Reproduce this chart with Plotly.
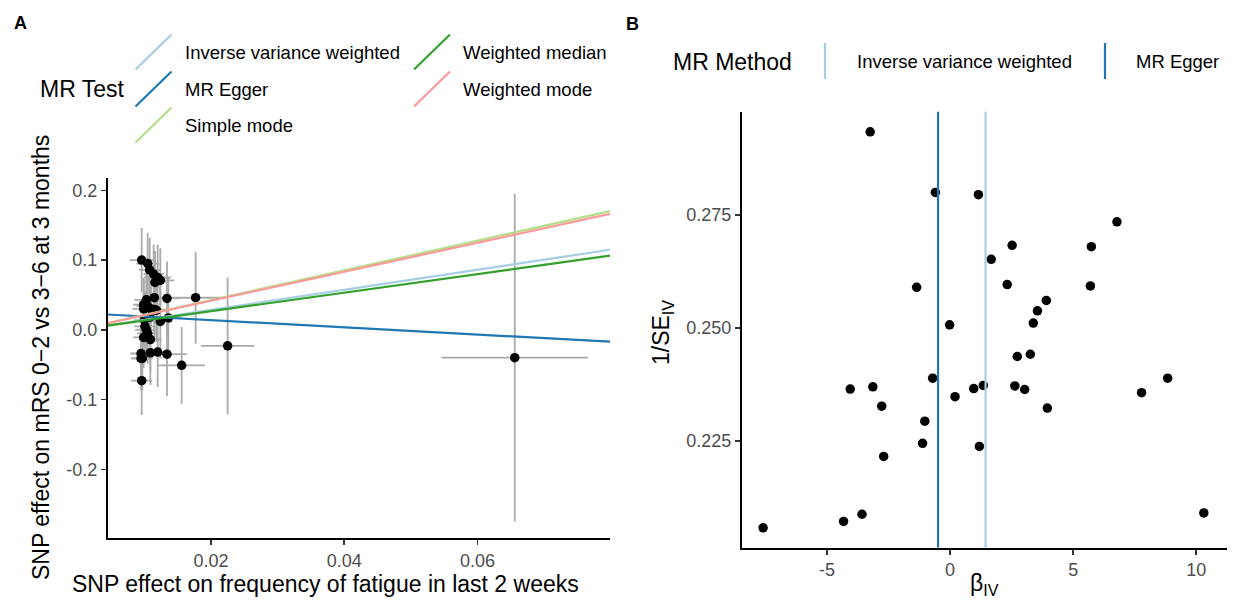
import plotly.graph_objects as go

W, H = 1235, 604
FONT = "Liberation Sans, Arial, Helvetica, sans-serif"

# ---------------- Panel A data (MR scatter) ----------------
snp_exp = [0.0096, 0.0105, 0.0108, 0.0114, 0.0120, 0.0124, 0.0116, 0.0103, 0.0115, 0.0134,
           0.0177, 0.0099, 0.0105, 0.0099, 0.0110, 0.0118, 0.0115, 0.0124, 0.0136, 0.0108,
           0.0100, 0.0101, 0.0103, 0.0105, 0.0109, 0.0099, 0.0095, 0.0109, 0.0120, 0.0134,
           0.0097, 0.0156, 0.0225, 0.0096, 0.0656, 0.0095]
snp_out = [0.100, 0.095, 0.086, 0.080, 0.075, 0.071, 0.068, 0.043, 0.046, 0.045,
           0.046, 0.036, 0.034, 0.030, 0.030, 0.028, 0.029, 0.012, 0.017, 0.018,
           0.014, 0.005, 0.000, -0.005, -0.014, -0.011, -0.034, -0.033, -0.032, -0.035,
           -0.041, -0.051, -0.023, -0.073, -0.040, -0.041]
se_exp = [0.0018, 0.0017, 0.0016, 0.0015, 0.0020, 0.0021, 0.0016, 0.0018, 0.0016, 0.0020,
          0.0040, 0.0016, 0.0017, 0.0017, 0.0016, 0.0018, 0.0020, 0.0018, 0.0020, 0.0016,
          0.0015, 0.0016, 0.0017, 0.0016, 0.0017, 0.0016, 0.0016, 0.0019, 0.0018, 0.0030,
          0.0016, 0.0035, 0.0040, 0.0016, 0.0110, 0.0015]
se_out = [0.046, 0.044, 0.046, 0.042, 0.047, 0.046, 0.045, 0.044, 0.045, 0.053,
          0.066, 0.039, 0.043, 0.042, 0.045, 0.045, 0.044, 0.053, 0.058, 0.041,
          0.042, 0.050, 0.041, 0.044, 0.046, 0.044, 0.040, 0.046, 0.050, 0.060,
          0.046, 0.055, 0.098, 0.049, 0.235, 0.045]

methods = ["Inverse variance weighted", "MR Egger", "Simple mode", "Weighted median", "Weighted mode"]
slopes = [1.437, -0.518, 2.13, 1.33, 2.08]
intercepts = [0.0, 0.0243, 0.0, 0.0, 0.0]
method_colors = ["#A6CEE3", "#1F78B4", "#B2DF8A", "#33A02C", "#FB9A99"]

A_XRANGE = [0.0045, 0.0799]
A_YRANGE = [-0.299, 0.2177]
A_XTICKS = [0.02, 0.04, 0.06]
A_XTICKTEXT = ["0.02", "0.04", "0.06"]
A_YTICKS = [-0.2, -0.1, 0.0, 0.1, 0.2]
A_YTICKTEXT = ["-0.2", "-0.1", "0.0", "0.1", "0.2"]

# ---------------- Panel B data (funnel) ----------------
beta_iv = [-3.25, -0.60, 1.15, 6.78, 2.52, 5.74, 1.67, 2.32, 5.70, -1.36,
           3.91, 3.55, 3.38, -0.02, 2.73, 3.26, -0.71, 8.84, 1.35, 2.63,
           -3.14, 0.96, -4.06, 3.03, 7.78, 0.20, -2.78, 3.95, -1.03, -1.12,
           1.19, -2.70, 10.31, -3.58, -4.33, -7.60]
inv_se_iv = [0.2934, 0.2800, 0.2795, 0.2735, 0.2683, 0.2680, 0.2652, 0.2596, 0.2593, 0.2590,
             0.2561, 0.2538, 0.2511, 0.2507, 0.2437, 0.2442, 0.2389, 0.2389, 0.2373, 0.2372,
             0.2370, 0.2366, 0.2365, 0.2364, 0.2357, 0.2348, 0.2327, 0.2323, 0.2294, 0.2245,
             0.2238, 0.2216, 0.2091, 0.2088, 0.2072, 0.2058]
funnel_methods = ["Inverse variance weighted", "MR Egger"]
funnel_estimates = [1.44, -0.49]
funnel_colors = ["#A6CEE3", "#1F78B4"]

B_XRANGE = [-8.47, 11.24]
B_YRANGE = [0.2014, 0.2979]
B_XTICKS = [-5, 0, 5, 10]
B_XTICKTEXT = ["-5", "0", "5", "10"]
B_YTICKS = [0.225, 0.250, 0.275]
B_YTICKTEXT = ["0.225", "0.250", "0.275"]


def px(x):
    return x / W


def py(y):
    return 1 - y / H


fig = go.Figure()

# Panel A: points with error bars
fig.add_trace(go.Scatter(
    x=snp_exp, y=snp_out, mode="markers",
    marker=dict(color="black", size=9.5),
    error_x=dict(type="data", array=se_exp, color="#AAAAAA", thickness=1.8, width=0),
    error_y=dict(type="data", array=se_out, color="#AAAAAA", thickness=1.8, width=0),
    xaxis="x", yaxis="y", showlegend=False, hoverinfo="skip"))

# Panel A: regression lines
for name, b, a, c in zip(methods, slopes, intercepts, method_colors):
    xs = [A_XRANGE[0], A_XRANGE[1]]
    fig.add_trace(go.Scatter(
        x=xs, y=[a + b * xs[0], a + b * xs[1]], mode="lines",
        line=dict(color=c, width=2.2), name=name,
        xaxis="x", yaxis="y", showlegend=False, hoverinfo="skip"))

# Panel B: funnel points
fig.add_trace(go.Scatter(
    x=beta_iv, y=inv_se_iv, mode="markers",
    marker=dict(color="black", size=9.5),
    xaxis="x2", yaxis="y2", showlegend=False, hoverinfo="skip"))

for name, e, c in zip(funnel_methods, funnel_estimates, funnel_colors):
    fig.add_trace(go.Scatter(
        x=[e, e], y=B_YRANGE, mode="lines", line=dict(color=c, width=2.2),
        name=name, xaxis="x2", yaxis="y2", showlegend=False, hoverinfo="skip"))

axis_common = dict(showline=True, linecolor="black", linewidth=1.8, showgrid=False,
                   zeroline=False, ticks="outside", ticklen=5, tickwidth=1.5,
                   tickcolor="#333333", tickfont=dict(family=FONT, size=18, color="#4D4D4D"),
                   mirror=False, automargin=False, fixedrange=True)

fig.update_layout(
    width=W, height=H,
    margin=dict(l=0, r=0, t=0, b=0),
    paper_bgcolor="white", plot_bgcolor="white",
    font=dict(family=FONT, color="black"),
    xaxis=dict(domain=[px(107.7), px(610)], range=A_XRANGE, tickvals=A_XTICKS,
               ticktext=A_XTICKTEXT, anchor="y", **axis_common),
    yaxis=dict(domain=[py(538.3), py(178)], range=A_YRANGE, tickvals=A_YTICKS,
               ticktext=A_YTICKTEXT, anchor="x", **axis_common),
    xaxis2=dict(domain=[px(741.7), px(1226.7)], range=B_XRANGE, tickvals=B_XTICKS,
                ticktext=B_XTICKTEXT, anchor="y2", **axis_common),
    yaxis2=dict(domain=[py(547.7), py(111.5)], range=B_YRANGE, tickvals=B_YTICKS,
                ticktext=B_YTICKTEXT, anchor="x2", **axis_common),
)

ann = []
shapes = []


def text(x, y, s, size, xanchor="left", angle=0, bold=False, color="black"):
    ann.append(dict(x=px(x), y=py(y), xref="paper", yref="paper", text=("<b>%s</b>" % s) if bold else s,
                    showarrow=False, xanchor=xanchor, yanchor="middle", textangle=angle,
                    font=dict(family=FONT, size=size, color=color)))


# Panel labels
text(20, 23, "A", 18, xanchor="center", bold=True)
text(632, 24, "B", 18, xanchor="center", bold=True)

# Axis titles
text(325, 584, "SNP effect on frequency of fatigue in last 2 weeks", 23, xanchor="center")
text(41, 358, "SNP effect on mRS 0−2 vs 3−6 at 3 months", 23, xanchor="center", angle=-90)
text(984, 584, "β<sub>IV</sub>", 23, xanchor="center")
text(662, 333, "1/SE<sub>IV</sub>", 23, xanchor="center", angle=-90)

# Legend A (MR Test)
text(38, 89, "MR Test", 23)
legend_glyph = [(135.5, 52), (135.5, 89), (135.5, 125), (414, 52), (414, 89)]
legend_text_x = [183, 183, 183, 461, 461]
for (gx, gy), tx, name, c in zip(legend_glyph, legend_text_x, methods, method_colors):
    shapes.append(dict(type="line", xref="paper", yref="paper",
                       x0=px(gx), y0=py(gy + 17.5), x1=px(gx + 36), y1=py(gy - 17.5),
                       line=dict(color=c, width=2.2)))
    text(tx, gy, name, 18.5)

# Legend B (MR Method)
text(671, 62, "MR Method", 23)
legend_b = [(825, 855), (1105, 1134)]
for (gx, tx), name, c in zip(legend_b, funnel_methods, funnel_colors):
    shapes.append(dict(type="line", xref="paper", yref="paper",
                       x0=px(gx), y0=py(79), x1=px(gx), y1=py(43),
                       line=dict(color=c, width=2.2)))
    text(tx, 62, name, 18.5)

fig.update_layout(annotations=ann, shapes=shapes)

fig.write_html("out.html", config={"displayModeBar": False, "staticPlot": True},
               post_script="document.body.style.margin='0px';document.body.style.overflow='hidden';")
